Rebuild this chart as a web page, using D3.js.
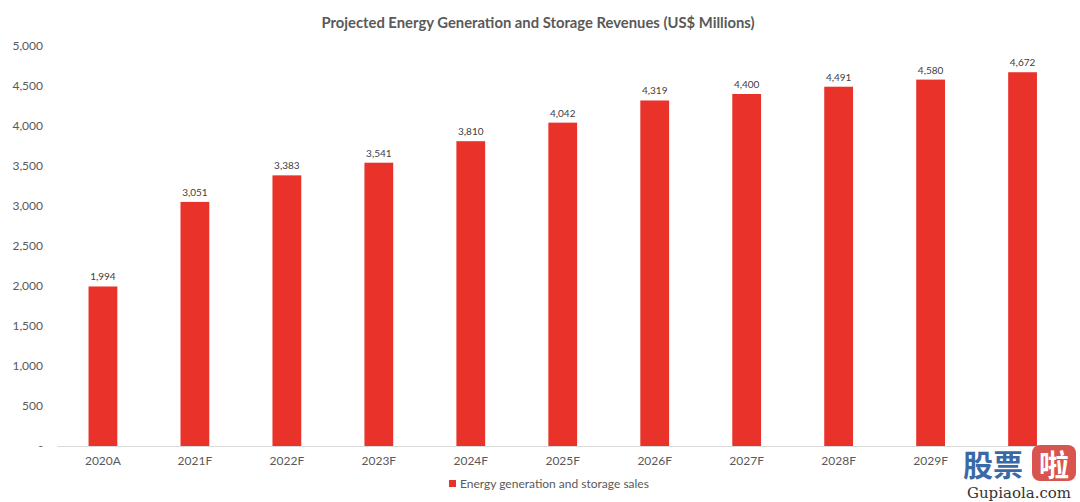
<!DOCTYPE html>
<html><head><meta charset="utf-8">
<script src="https://cdn.jsdelivr.net/npm/d3@7/dist/d3.min.js"></script>
<style>body{margin:0;background:#fff}svg{display:block}</style>
</head><body>
<svg id="c" width="1080" height="502"></svg>
<script>
const categories = ["2020A","2021F","2022F","2023F","2024F","2025F","2026F","2027F","2028F","2029F","2030F"];
const values = [1994,3051,3383,3541,3810,4042,4319,4400,4491,4580,4672];
const yTicks = [0,500,1000,1500,2000,2500,3000,3500,4000,4500,5000];
const seriesName = "Energy generation and storage sales";
const title = "Projected Energy Generation and Storage Revenues (US$ Millions)";

const svg = d3.select("#c");
const font = "Lato, 'Open Sans', sans-serif";
const txt = "#595959";
const red = "#E8322A";

const x = d3.scaleBand().domain(categories).range([57, 1068.5]).paddingInner(0.687).paddingOuter(0.343);
const y = d3.scaleLinear().domain([0,5000]).range([446,46]);

svg.append("text").attr("x",538).attr("y",28).attr("text-anchor","middle")
  .attr("font-family",font).attr("font-weight","bold").attr("font-size",14.8).attr("fill",txt).text(title);

// y axis labels
const fmt = d3.format(",");
const ya = svg.append("g").attr("transform","translate(43,0)")
  .call(d3.axisLeft(y).tickValues(yTicks).tickSize(0).tickPadding(0).tickFormat(d => d===0 ? "-" : fmt(d)));
ya.select(".domain").remove();
ya.selectAll("text").attr("font-family",font).attr("font-size",12).attr("fill",txt);

// bars
svg.append("g").selectAll("rect").data(values).join("rect")
  .attr("x",(d,i)=>x(categories[i])).attr("width",x.bandwidth())
  .attr("y",d=>y(d)).attr("height",d=>y(0)-y(d)).attr("fill",red);

// value labels
svg.append("g").selectAll("text").data(values).join("text")
  .attr("x",(d,i)=>x(categories[i])+x.bandwidth()/2).attr("y",d=>y(d)-6)
  .attr("text-anchor","middle").attr("font-family",font).attr("font-size",10).attr("fill","#404040")
  .text(d=>fmt(d));

// x axis (last category label is hidden under the watermark in the reference)
const xa = svg.append("g").attr("transform","translate(0,446)")
  .call(d3.axisBottom(x).tickSize(0).tickPadding(10));
xa.select(".domain").attr("stroke","#D9D9D9").attr("stroke-width",1.2);
xa.selectAll("text").attr("font-family",font).attr("font-size",12).attr("fill",txt);
xa.selectAll(".tick").filter(d => d === categories[categories.length-1]).select("text").remove();

// legend
const lg = svg.append("g").attr("transform","translate(449,484)");
lg.append("rect").attr("x",0).attr("y",-4).attr("width",7).attr("height",7).attr("fill",red);
lg.append("text").attr("x",11).attr("y",4).attr("font-family",font).attr("font-size",12).attr("fill",txt).text(seriesName);

// watermark
const wm = svg.append("g");
wm.append("rect").attr("x",960).attr("y",449).attr("width",120).attr("height",53).attr("fill","#fff");
wm.append("text").attr("x",963).attr("y",476).attr("font-family","'Noto Sans CJK SC'").attr("font-weight","bold")
  .attr("font-size",30).attr("fill","#3A69A6").text("股票");
wm.append("rect").attr("x",1032).attr("y",445).attr("width",44).attr("height",36).attr("rx",8).attr("fill","#D9534F");
wm.append("text").attr("x",1054).attr("y",476).attr("text-anchor","middle").attr("font-family","'Noto Sans CJK SC'").attr("font-weight","bold")
  .attr("font-size",30).attr("fill","#fff").text("啦");
wm.append("text").attr("x",1019).attr("y",498).attr("text-anchor","middle").attr("font-family","'DejaVu Serif', serif")
  .attr("font-size",15).attr("fill","#333").text("Gupiaola.com");
</script>
</body></html>
